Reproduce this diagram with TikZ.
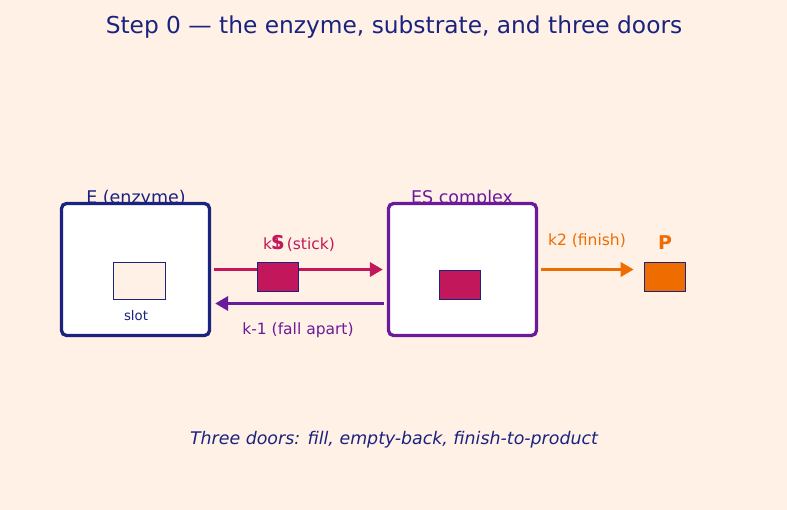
\documentclass[tikz,border=0pt]{standalone}
\usepackage{fontspec}
\setmainfont{DejaVu Sans}
\usetikzlibrary{arrows.meta}
\definecolor{bgc}{RGB}{255,241,230}
\definecolor{navy}{RGB}{26,35,126}
\definecolor{purp}{RGB}{106,27,154}
\definecolor{mag}{RGB}{194,24,91}
\definecolor{orng}{RGB}{239,108,0}
\tikzset{
  bigbox/.style={draw, line width=3.3pt, fill=white, rounded corners=5pt, minimum width=148pt, minimum height=132pt, inner sep=0pt},
  chip/.style={draw=navy, line width=1.6pt, minimum width=41pt, minimum height=29pt, inner sep=0pt},
  arr/.style={line width=3.5pt, -{Triangle[length=13pt,width=14pt]}},
  lbl/.style={inner sep=0pt, font=\fontsize{17.5}{20}\selectfont},
  klbl/.style={inner sep=0pt, font=\fontsize{15.5}{18}\selectfont},
  sym/.style={inner sep=0pt, font=\fontsize{19}{22}\selectfont\bfseries}
}
\begin{document}
\begin{tikzpicture}[x=1pt,y=-1pt]
\fill[bgc] (0,0) rectangle (787,510);
\useasboundingbox (0,0) rectangle (787,510);
\node[inner sep=0pt, text=navy, font=\fontsize{23.3}{28}\selectfont] (title) at (394,27) {Step 0 — the enzyme, substrate, and three doors};
\node[lbl, text=navy] (Elbl) at (136,198.5) {E (enzyme)};
\node[lbl, text=purp] (ESlbl) at (462,198.5) {ES complex};
\node[bigbox, draw=navy] (E) at (135.5,269.5) {};
\node[bigbox, draw=purp] (ES) at (462.5,269.5) {};
\node[chip, fill=bgc, minimum width=52pt, minimum height=37pt] (slot) at (139.5,281) {};
\node[inner sep=0pt, text=navy, font=\fontsize{13.3}{16}\selectfont] (slotlbl) at (136,315.5) {slot};
\node[chip, fill=mag] (ESS) at (460,285) {};
\draw[arr, mag] ([xshift=3pt]E.east) -- ([xshift=-4pt]ES.west);
\draw[arr, purp] ([xshift=-3pt,yshift=-34pt]ES.west) -- ([xshift=4pt,yshift=-34pt]E.east);
\node[chip, fill=mag] (S) at (278,277) {};
\node[klbl, text=mag] (k1) at (299,244.5) {k1 (stick)};
\node[sym, text=mag] (Slbl) at (278,242.5) {S};
\node[klbl, text=purp] (km1) at (298,330.5) {k-1 (fall apart)};
\node[chip, fill=orng] (P) at (665,277) {};
\node[sym, text=orng] (Plbl) at (665,242.5) {P};
\draw[arr, orng] ([xshift=3pt]ES.east) -- ([xshift=-10pt]P.west |- ES.east);
\node[klbl, text=orng] (k2) at (587,240.5) {k2 (finish)};
\node[inner sep=0pt, text=navy, font=\fontsize{17.4}{20}\selectfont\itshape] (cap) at (394,440) {Three doors: fill, empty-back, finish-to-product};
\end{tikzpicture}
\end{document}
